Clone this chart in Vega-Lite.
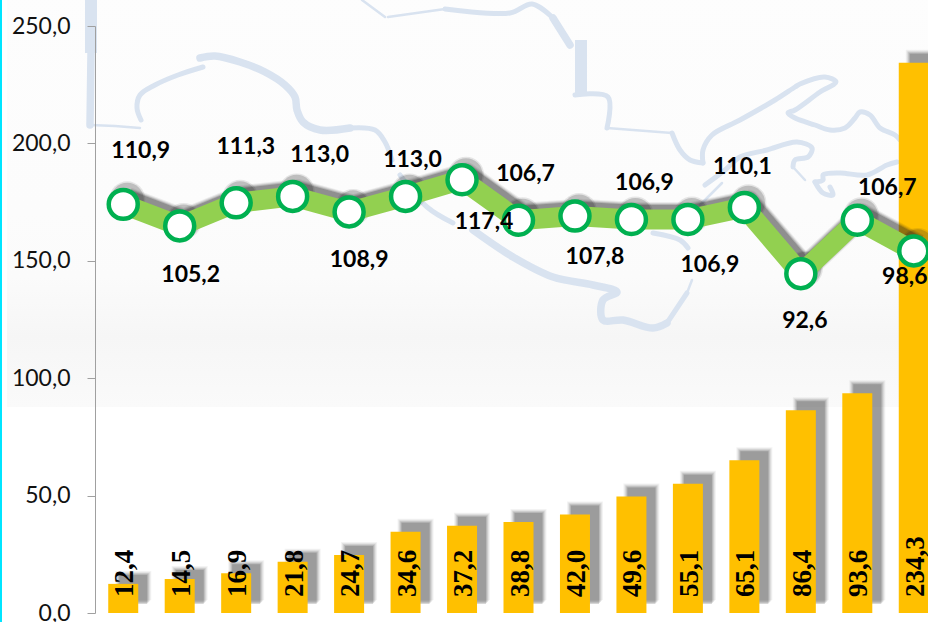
{
"$schema":"https://vega.github.io/schema/vega-lite/v6.json",
"width":833,"height":587,
"autosize":"none",
"padding":{"left":95,"top":26,"right":0,"bottom":9},
"background":"white",
"config":{"view":{"stroke":null},"text":{"font":"Lato"}},
"datasets":{
"main":[
{"period":1,"amount":12.4,"amount_label":"12,4","index":110.9,"index_label":"110,9"},
{"period":2,"amount":14.5,"amount_label":"14,5","index":105.2,"index_label":"105,2"},
{"period":3,"amount":16.9,"amount_label":"16,9","index":111.3,"index_label":"111,3"},
{"period":4,"amount":21.8,"amount_label":"21,8","index":113.0,"index_label":"113,0"},
{"period":5,"amount":24.7,"amount_label":"24,7","index":108.9,"index_label":"108,9"},
{"period":6,"amount":34.6,"amount_label":"34,6","index":113.0,"index_label":"113,0"},
{"period":7,"amount":37.2,"amount_label":"37,2","index":117.4,"index_label":"117,4"},
{"period":8,"amount":38.8,"amount_label":"38,8","index":106.7,"index_label":"106,7"},
{"period":9,"amount":42.0,"amount_label":"42,0","index":107.8,"index_label":"107,8"},
{"period":10,"amount":49.6,"amount_label":"49,6","index":106.9,"index_label":"106,9"},
{"period":11,"amount":55.1,"amount_label":"55,1","index":106.9,"index_label":"106,9"},
{"period":12,"amount":65.1,"amount_label":"65,1","index":110.1,"index_label":"110,1"},
{"period":13,"amount":86.4,"amount_label":"86,4","index":92.6,"index_label":"92,6"},
{"period":14,"amount":93.6,"amount_label":"93,6","index":106.7,"index_label":"106,7"},
{"period":15,"amount":234.3,"amount_label":"234,3","index":98.6,"index_label":"98,6"}
],
"panel":[{"x0":-88,"x1":833,"y0":206,"y1":640}],
"edge":[{"x0":-95,"x1":-93,"y0":-20,"y1":640}],
"map":[
{"r":"a","w":"thin","o":1,"mx":267,"my":613},{"r":"a","w":"thin","o":2,"mx":290,"my":596},
{"r":"b","w":"thin","o":1,"mx":293,"my":596},{"r":"b","w":"thin","o":2,"mx":350,"my":604},
{"r":"c","w":"mid","o":1,"mx":350,"my":604},{"r":"c","w":"mid","o":2,"mx":415,"my":600},{"r":"c","w":"mid","o":3,"mx":437,"my":609},{"r":"c","w":"mid","o":4,"mx":458,"my":595},
{"r":"d","w":"wide","o":1,"mx":458,"my":595},{"r":"d","w":"wide","o":2,"mx":475,"my":568},
{"r":"e","w":"xl","o":1,"mx":486,"my":573},{"r":"e","w":"xl","o":2,"mx":486,"my":519},
{"r":"f","w":"mid","o":1,"mx":480,"my":518},{"r":"f","w":"mid","o":2,"mx":513,"my":516},{"r":"f","w":"mid","o":3,"mx":512,"my":485},
{"r":"g","w":"thin","o":1,"mx":512,"my":485},{"r":"g","w":"thin","o":2,"mx":577,"my":480},
{"r":"h","w":"mid","o":1,"mx":577,"my":480},{"r":"h","w":"mid","o":2,"mx":585,"my":463},{"r":"h","w":"mid","o":3,"mx":595,"my":453},{"r":"h","w":"mid","o":4,"mx":608,"my":450},
{"r":"i","w":"mid","o":1,"mx":608,"my":450},{"r":"i","w":"mid","o":2,"mx":608,"my":463},{"r":"i","w":"mid","o":3,"mx":617,"my":478},{"r":"i","w":"mid","o":4,"mx":645,"my":493},{"r":"i","w":"mid","o":5,"mx":680,"my":513},{"r":"i","w":"mid","o":6,"mx":700,"my":526},{"r":"i","w":"mid","o":7,"mx":705,"my":529},{"r":"i","w":"mid","o":8,"mx":730,"my":536},{"r":"i","w":"mid","o":9,"mx":741,"my":531},{"r":"i","w":"mid","o":10,"mx":725,"my":521},{"r":"i","w":"mid","o":11,"mx":700,"my":503},{"r":"i","w":"mid","o":12,"mx":693,"my":500},{"r":"i","w":"mid","o":13,"mx":700,"my":495},{"r":"i","w":"mid","o":14,"mx":720,"my":488},{"r":"i","w":"mid","o":15,"mx":735,"my":483},{"r":"i","w":"mid","o":16,"mx":750,"my":485},{"r":"i","w":"mid","o":17,"mx":760,"my":495},{"r":"i","w":"mid","o":18,"mx":765,"my":501},{"r":"i","w":"mid","o":19,"mx":775,"my":498},{"r":"i","w":"mid","o":20,"mx":785,"my":485},{"r":"i","w":"mid","o":21,"mx":800,"my":478},{"r":"i","w":"mid","o":22,"mx":805,"my":473},
{"r":"j","w":"mid","o":1,"mx":610,"my":428},{"r":"j","w":"mid","o":2,"mx":630,"my":443},{"r":"j","w":"mid","o":3,"mx":645,"my":456},{"r":"j","w":"mid","o":4,"mx":672,"my":463},{"r":"j","w":"mid","o":5,"mx":702,"my":471},{"r":"j","w":"mid","o":6,"mx":717,"my":465},{"r":"j","w":"mid","o":7,"mx":713,"my":456},{"r":"j","w":"mid","o":8,"mx":700,"my":453},{"r":"j","w":"mid","o":9,"mx":698,"my":446},
{"r":"j1","w":"thin","o":1,"mx":698,"my":446},{"r":"j1","w":"thin","o":2,"mx":710,"my":433},
{"r":"j2","w":"thin","o":1,"mx":627,"my":430},{"r":"j2","w":"thin","o":2,"mx":605,"my":408},
{"r":"k","w":"mid","o":1,"mx":720,"my":431},{"r":"k","w":"mid","o":2,"mx":728,"my":433},{"r":"k","w":"mid","o":3,"mx":728,"my":438},{"r":"k","w":"mid","o":4,"mx":745,"my":440},{"r":"k","w":"mid","o":5,"mx":772,"my":438},{"r":"k","w":"mid","o":6,"mx":792,"my":448},{"r":"k","w":"mid","o":7,"mx":802,"my":451},
{"r":"k2","w":"mid","o":1,"mx":720,"my":431},{"r":"k2","w":"mid","o":2,"mx":728,"my":420},{"r":"k2","w":"mid","o":3,"mx":738,"my":418},{"r":"k2","w":"mid","o":4,"mx":735,"my":426},
{"r":"m","w":"xl","o":1,"mx":-4,"my":613},{"r":"m","w":"xl","o":2,"mx":-4,"my":560},
{"r":"m1","w":"wide","o":1,"mx":-4,"my":560},{"r":"m1","w":"wide","o":2,"mx":-5,"my":488},
{"r":"n","w":"thin","o":1,"mx":-5,"my":488},{"r":"n","w":"thin","o":2,"mx":20,"my":487},{"r":"n","w":"thin","o":3,"mx":45,"my":485},
{"r":"p","w":"mid","o":1,"mx":46,"my":493},{"r":"p","w":"mid","o":2,"mx":42,"my":505},{"r":"p","w":"mid","o":3,"mx":45,"my":518},{"r":"p","w":"mid","o":4,"mx":60,"my":528},{"r":"p","w":"mid","o":5,"mx":83,"my":538},{"r":"p","w":"mid","o":6,"mx":108,"my":546},
{"r":"q","w":"wide","o":1,"mx":105,"my":555},{"r":"q","w":"wide","o":2,"mx":120,"my":557},{"r":"q","w":"wide","o":3,"mx":145,"my":551},{"r":"q","w":"wide","o":4,"mx":170,"my":541},{"r":"q","w":"wide","o":5,"mx":190,"my":528},{"r":"q","w":"wide","o":6,"mx":200,"my":516},{"r":"q","w":"wide","o":7,"mx":202,"my":503},{"r":"q","w":"wide","o":8,"mx":208,"my":491},{"r":"q","w":"wide","o":9,"mx":225,"my":483},{"r":"q","w":"wide","o":10,"mx":255,"my":485},
{"r":"q1","w":"mid","o":1,"mx":255,"my":485},{"r":"q1","w":"mid","o":2,"mx":280,"my":483},{"r":"q1","w":"mid","o":3,"mx":290,"my":471},{"r":"q1","w":"mid","o":4,"mx":297,"my":453},
{"r":"s","w":"mid","o":1,"mx":305,"my":438},{"r":"s","w":"mid","o":2,"mx":332,"my":406},{"r":"s","w":"mid","o":3,"mx":358,"my":390},
{"r":"t","w":"wide","o":1,"mx":378,"my":383},{"r":"t","w":"wide","o":2,"mx":418,"my":356},{"r":"t","w":"wide","o":3,"mx":458,"my":336},{"r":"t","w":"wide","o":4,"mx":498,"my":328},{"r":"t","w":"wide","o":5,"mx":522,"my":321},{"r":"t","w":"wide","o":6,"mx":508,"my":313},{"r":"t","w":"wide","o":7,"mx":508,"my":293},{"r":"t","w":"wide","o":8,"mx":528,"my":293},{"r":"t","w":"wide","o":9,"mx":558,"my":285},{"r":"t","w":"wide","o":10,"mx":572,"my":290},
{"r":"t1","w":"mid","o":1,"mx":572,"my":290},{"r":"t1","w":"mid","o":2,"mx":592,"my":320},
{"r":"t2","w":"thin","o":1,"mx":592,"my":320},{"r":"t2","w":"thin","o":2,"mx":597,"my":333},
{"r":"u","w":"mid","o":1,"mx":558,"my":380},{"r":"u","w":"mid","o":2,"mx":585,"my":373},{"r":"u","w":"mid","o":3,"mx":593,"my":365}
]
},
"resolve":{"scale":{"x":"independent","y":"independent"},"axis":{"y":"independent"}},
"layer":[
{"data":{"name":"panel"},
 "mark":{"type":"rect","color":{"gradient":"linear","x1":0,"y1":0,"x2":0,"y2":1,"stops":[{"offset":0,"color":"#fdfdfd"},{"offset":0.55,"color":"#fcfcfc"},{"offset":0.7,"color":"#fbfbfb"},{"offset":0.84,"color":"#f6f6f6"},{"offset":1,"color":"#fafafa"}]}},
 "encoding":{
  "x":{"field":"x0","type":"quantitative","scale":{"domain":[0,847],"range":[0,847]},"axis":null},
  "x2":{"field":"x1"},
  "y":{"field":"y0","type":"quantitative","scale":{"domain":[0,587],"range":[587,0]},"axis":null},
  "y2":{"field":"y1"}
 }},
{"data":{"name":"edge"},
 "mark":{"type":"rect","color":"#00e5ff"},
 "encoding":{
  "x":{"field":"x0","type":"quantitative","scale":{"domain":[0,847],"range":[0,847]},"axis":null},
  "x2":{"field":"x1"},
  "y":{"field":"y0","type":"quantitative","scale":{"domain":[0,587],"range":[587,0]},"axis":null},
  "y2":{"field":"y1"}
 }},
{"data":{"name":"map"},
 "encoding":{
  "x":{"field":"mx","type":"quantitative","scale":{"domain":[0,847],"range":[0,847]},"axis":null},
  "y":{"field":"my","type":"quantitative","scale":{"domain":[0,587],"range":[587,0]},"axis":null},
  "order":{"field":"o"},
  "detail":{"field":"r"}
 },
 "layer":[
  {"transform":[{"filter":"datum.w=='thin'"}],"mark":{"type":"line","color":"#d9e3f0","strokeCap":"round","strokeJoin":"round","interpolate":"linear","strokeWidth":2.5}},
  {"transform":[{"filter":"datum.w=='mid'"}],"mark":{"type":"line","color":"#d9e3f0","strokeCap":"round","strokeJoin":"round","interpolate":"catmull-rom","strokeWidth":5}},
  {"transform":[{"filter":"datum.w=='wide'"}],"mark":{"type":"line","color":"#d9e3f0","strokeCap":"round","strokeJoin":"round","interpolate":"catmull-rom","strokeWidth":7.5}},
  {"transform":[{"filter":"datum.w=='xl'"}],"mark":{"type":"line","color":"#d9e3f0","strokeCap":"butt","strokeJoin":"round","interpolate":"linear","strokeWidth":12}}
 ]},
{"data":{"name":"main"},
 "encoding":{
  "x":{"field":"period","type":"ordinal","scale":{"domain":[1,2,3,4,5,6,7,8,9,10,11,12,13,14,15],"range":[0,847]},"axis":null},
  "y":{"field":"amount","type":"quantitative","scale":{"domain":[0,250],"range":[587,0]},
   "axis":{"title":null,"grid":false,"zindex":1,"values":[0,50,100,150,200,250],"labelExpr":"replace(format(datum.value,'.1f'),'.',',')","labelFont":"Lato","labelFontSize":23,"labelColor":"#111111","labelPadding":17,"tickSize":8,"tickColor":"#a0a0a0","domainColor":"#a0a0a0","labelFlush":false,"labelOverlap":false}}
 },
 "layer":[
  {"mark":{"type":"bar","size":36,"color":"#333333","opacity":0.06,"xOffset":10,"yOffset":-13,"y2Offset":-8}},
  {"mark":{"type":"bar","size":34,"color":"#333333","opacity":0.08,"xOffset":10,"yOffset":-12,"y2Offset":-9}},
  {"mark":{"type":"bar","size":32,"color":"#333333","opacity":0.12,"xOffset":10,"yOffset":-11,"y2Offset":-10}},
  {"mark":{"type":"bar","size":30,"color":"#333333","opacity":0.15,"xOffset":10,"yOffset":-10,"y2Offset":-11}},
  {"mark":{"type":"bar","size":28,"color":"#333333","opacity":0.2,"xOffset":10,"yOffset":-9,"y2Offset":-12}},
  {"mark":{"type":"bar","size":30,"color":"#ffc000"}},
  {"mark":{"type":"text","font":"Liberation Serif","fontWeight":"bold","fontSize":27,"angle":270,"align":"left","baseline":"middle","dx":16,"dy":2,"color":"#000000"},
   "encoding":{"y":{"datum":0},"text":{"field":"amount_label"}}}
 ]},
{"data":{"name":"main"},
 "encoding":{
  "x":{"field":"period","type":"ordinal","scale":{"domain":[1,2,3,4,5,6,7,8,9,10,11,12,13,14,15],"range":[0,847]},"axis":null},
  "y":{"field":"index","type":"quantitative","scale":{"domain":[3,158],"range":[587,0]},"axis":null},
  "text":{"field":"index_label"}
 },
 "layer":[
  {"mark":{"type":"line","color":"#222222","strokeWidth":25,"opacity":0.07,"xOffset":4,"yOffset":-5,"strokeJoin":"round"}},
  {"mark":{"type":"line","color":"#222222","strokeWidth":23,"opacity":0.12,"xOffset":4,"yOffset":-5,"strokeJoin":"round"}},
  {"mark":{"type":"line","color":"#222222","strokeWidth":21,"opacity":0.18,"xOffset":4,"yOffset":-5,"strokeJoin":"round"}},
  {"mark":{"type":"line","color":"#222222","strokeWidth":19,"opacity":0.25,"xOffset":4,"yOffset":-5,"strokeJoin":"round"}},
  {"mark":{"type":"point","filled":true,"size":1300,"color":"#222222","opacity":0.1,"xOffset":4,"yOffset":-5}},
  {"mark":{"type":"point","filled":true,"size":1100,"color":"#222222","opacity":0.2,"xOffset":4,"yOffset":-5}},
  {"mark":{"type":"line","color":"#92d050","strokeWidth":20,"strokeJoin":"miter"}},
  {"mark":{"type":"point","filled":true,"size":840,"fill":"#ffffff","stroke":"#00b050","strokeWidth":4.5,"opacity":1}},
  {"transform":[{"filter":"datum.period==1"}],"mark":{"type":"text","font":"Lato","fontWeight":"bold","fontSize":23,"color":"#000","dx":17.5,"dy":-53}},
  {"transform":[{"filter":"datum.period==2"}],"mark":{"type":"text","font":"Lato","fontWeight":"bold","fontSize":23,"color":"#000","dx":11,"dy":49}},
  {"transform":[{"filter":"datum.period==3"}],"mark":{"type":"text","font":"Lato","fontWeight":"bold","fontSize":23,"color":"#000","dx":9.6,"dy":-56}},
  {"transform":[{"filter":"datum.period==4"}],"mark":{"type":"text","font":"Lato","fontWeight":"bold","fontSize":23,"color":"#000","dx":27,"dy":-41}},
  {"transform":[{"filter":"datum.period==5"}],"mark":{"type":"text","font":"Lato","fontWeight":"bold","fontSize":23,"color":"#000","dx":10,"dy":48}},
  {"transform":[{"filter":"datum.period==6"}],"mark":{"type":"text","font":"Lato","fontWeight":"bold","fontSize":23,"color":"#000","dx":7,"dy":-36}},
  {"transform":[{"filter":"datum.period==7"}],"mark":{"type":"text","font":"Lato","fontWeight":"bold","fontSize":23,"color":"#000","dx":22,"dy":42}},
  {"transform":[{"filter":"datum.period==8"}],"mark":{"type":"text","font":"Lato","fontWeight":"bold","fontSize":23,"color":"#000","dx":7,"dy":-46}},
  {"transform":[{"filter":"datum.period==9"}],"mark":{"type":"text","font":"Lato","fontWeight":"bold","fontSize":23,"color":"#000","dx":20,"dy":41}},
  {"transform":[{"filter":"datum.period==10"}],"mark":{"type":"text","font":"Lato","fontWeight":"bold","fontSize":23,"color":"#000","dx":13,"dy":-37}},
  {"transform":[{"filter":"datum.period==11"}],"mark":{"type":"text","font":"Lato","fontWeight":"bold","fontSize":23,"color":"#000","dx":22,"dy":45}},
  {"transform":[{"filter":"datum.period==12"}],"mark":{"type":"text","font":"Lato","fontWeight":"bold","fontSize":23,"color":"#000","dx":-2,"dy":-40}},
  {"transform":[{"filter":"datum.period==13"}],"mark":{"type":"text","font":"Lato","fontWeight":"bold","fontSize":23,"color":"#000","dx":4,"dy":47}},
  {"transform":[{"filter":"datum.period==14"}],"mark":{"type":"text","font":"Lato","fontWeight":"bold","fontSize":23,"color":"#000","dx":30,"dy":-32}},
  {"transform":[{"filter":"datum.period==15"}],"mark":{"type":"text","font":"Lato","fontWeight":"bold","fontSize":23,"color":"#000","dx":-9,"dy":26}}
 ]}
]
}
